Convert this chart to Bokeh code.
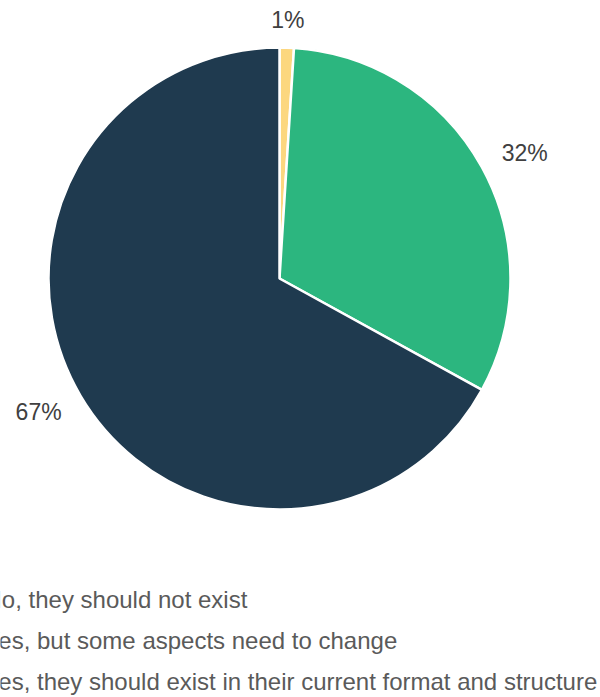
import math
from bokeh.plotting import figure
from bokeh.models import Range1d
from bokeh.core.properties import value
from bokeh.embed import file_html
from bokeh.resources import INLINE

categories = ["No, they should not exist",
              "Yes, but some aspects need to change",
              "Yes, they should exist in their current format and structure"]
shares = [1, 32, 67]
labels = ["1%", "32%", "67%"]
colors = ["#FCD77F", "#2CB67F", "#1F3A4F"]

W, H = 600, 697
p = figure(width=W, height=H, output_backend="svg", toolbar_location=None,
           x_range=Range1d(0, W), y_range=Range1d(0, H), min_border=0)
p.axis.visible = False
p.grid.visible = False
p.outline_line_color = None
p.background_fill_color = "white"

cx, cy, R = 279, H - 278, 231
total = sum(shares)
starts, ends, mids = [], [], []
acc = 0.0
for s in shares:
    a0 = math.pi / 2 - 2 * math.pi * acc / total
    acc += s
    a1 = math.pi / 2 - 2 * math.pi * acc / total
    starts.append(a0)
    ends.append(a1)
    mids.append((a0 + a1) / 2)

p.wedge(x=[cx] * 3, y=[cy] * 3, radius=R, start_angle=starts, end_angle=ends,
        direction="clock", fill_color=colors, line_color="white", line_width=2.5)

lx, ly = [], []
for m in mids:
    c = abs(math.cos(m))
    r = 258 + 20 * c
    a = m - 0.034 * c
    lx.append(cx + r * math.cos(a))
    ly.append(cy + r * math.sin(a))
p.text(x=lx, y=ly, text=labels, text_align="center", text_baseline="middle",
       text_font=value("Liberation Sans"), text_font_size="23px", text_color="#404040")

leg_y = [H - 599, H - 640, H - 681]
p.text(x=[-16] * 3, y=leg_y, text=categories, text_align="left", text_baseline="middle",
       text_font=value("Liberation Sans"), text_font_size="24px", text_color="#5a5a5a")

open("out.html", "w").write(file_html(p, INLINE))
